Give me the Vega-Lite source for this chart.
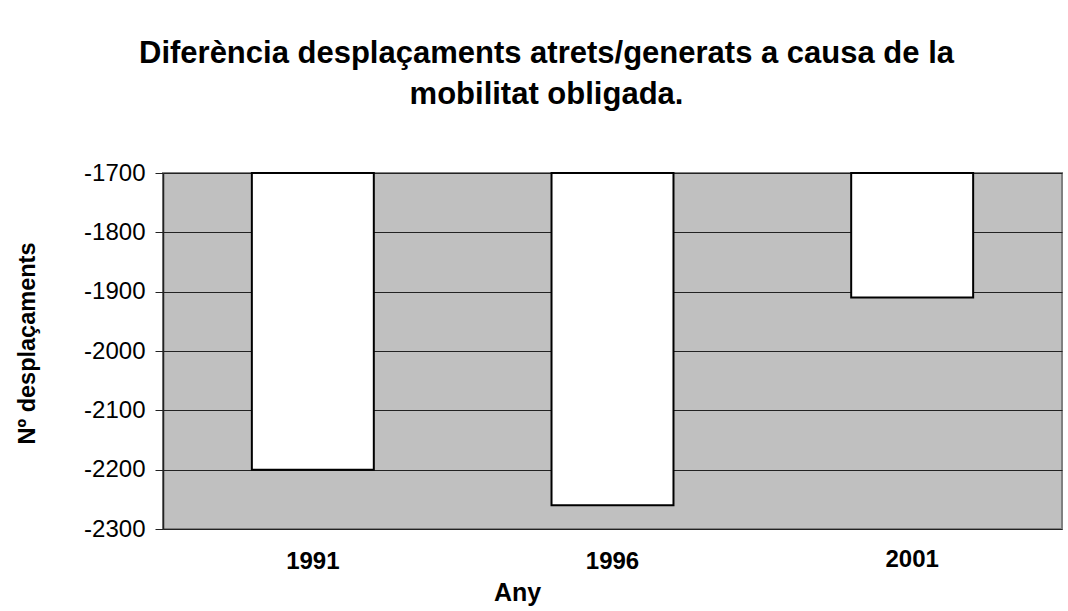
{
  "$schema": "https://vega.github.io/schema/vega-lite/v6.json",
  "width": 899,
  "height": 356,
  "autosize": {"type": "none"},
  "padding": {"left": 163, "top": 173, "right": 6, "bottom": 82},
  "background": "white",
  "title": {
    "text": ["Diferència desplaçaments atrets/generats a causa de la", "mobilitat obligada."],
    "font": "Liberation Sans",
    "fontSize": 31,
    "fontWeight": "bold",
    "color": "black",
    "anchor": "middle",
    "dx": -66,
    "offset": 50,
    "lineHeight": 41
  },
  "data": {
    "values": [
      {"Any": "1991", "value": -2200},
      {"Any": "1996", "value": -2260},
      {"Any": "2001", "value": -1910}
    ]
  },
  "mark": {"type": "bar", "fill": "white", "stroke": "black", "strokeWidth": 2},
  "encoding": {
    "x": {
      "field": "Any",
      "type": "nominal",
      "sort": null,
      "scale": {"paddingInner": 0.593, "paddingOuter": 0.2965},
      "axis": {
        "title": "Any",
        "labelAngle": 0,
        "ticks": false,
        "domain": false,
        "labelFont": "Liberation Sans",
        "labelFontSize": 24,
        "labelFontWeight": "bold",
        "labelColor": "black",
        "labelBaseline": "top",
        "labelPadding": {"condition": {"test": "datum.value == '2001'", "value": 18}, "value": 20},
        "titleFont": "Liberation Sans",
        "titleFontSize": 25,
        "titleFontWeight": "bold",
        "titleColor": "black",
        "titleX": 354,
        "titleY": 71,
        "titleBaseline": "alphabetic"
      }
    },
    "y": {
      "field": "value",
      "type": "quantitative",
      "scale": {"domain": [-2300, -1700], "nice": false, "zero": false},
      "axis": {
        "title": "Nº desplaçaments",
        "values": [-2300, -2200, -2100, -2000, -1900, -1800, -1700],
        "labelExpr": "'' + datum.value",
        "labelFont": "Liberation Sans",
        "labelFontSize": 24,
        "labelColor": "black",
        "labelPadding": 10,
        "tickSize": 8,
        "tickColor": "#222",
        "domainColor": "#222",
        "domainWidth": 1.5,
        "grid": true,
        "gridColor": "#222",
        "gridWidth": 1,
        "titleFont": "Liberation Sans",
        "titleFontSize": 23.5,
        "titleFontWeight": "bold",
        "titleColor": "black",
        "titleAngle": -90,
        "titleAlign": "center",
        "titleBaseline": "middle",
        "titleX": -136,
        "titleY": 170
      }
    },
    "y2": {"datum": -1700}
  },
  "config": {
    "view": {"fill": "#C0C0C0", "stroke": "#808080", "strokeWidth": 2}
  }
}
